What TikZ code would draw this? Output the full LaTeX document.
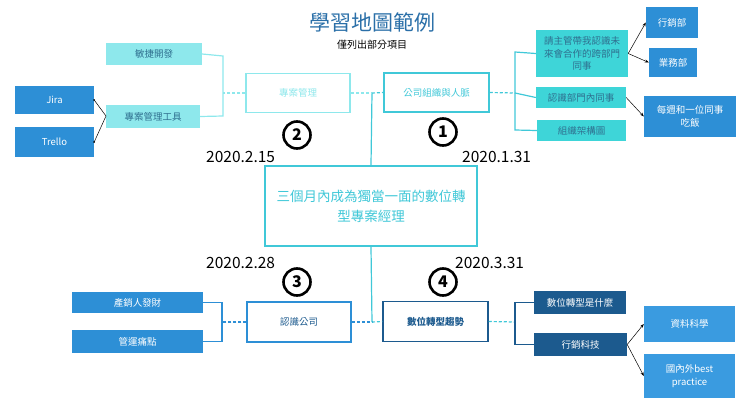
\documentclass[tikz,border=0pt]{standalone}
\usepackage{fontspec}
\setmainfont{Noto Sans CJK TC}
\usetikzlibrary{arrows.meta}
\definecolor{lc}{HTML}{8EE8EC}
\definecolor{tc}{HTML}{3ED5D8}
\definecolor{bc}{HTML}{40C8D8}
\definecolor{mb}{HTML}{2D8FD6}
\definecolor{nb}{HTML}{1C5A8E}
\definecolor{sb}{HTML}{3A9BE0}
\definecolor{tt}{HTML}{2A6FA8}
\definecolor{ltx}{HTML}{2F6F8F}
\begin{document}
\begin{tikzpicture}[x=1pt,y=-1pt,
 bx/.style={draw=none,inner sep=0pt,align=center,font=\fontsize{9.5}{12.5}\selectfont},
 ln/.style={line width=1.2pt},
 dl/.style={line width=1.2pt,dash pattern=on 3pt off 2pt},
 ar/.style={-{Stealth[length=4pt]},line width=0.5pt,black},
 num/.style={circle,draw=black,line width=2.6pt,minimum size=27pt,inner sep=0pt,font=\fontsize{16}{16}\selectfont\bfseries},
 dt/.style={font=\fontsize{15.5}{15.5}\selectfont,inner sep=0pt,anchor=base west}]
\useasboundingbox (0,0) rectangle (740,416);
\node[text=tt,font=\fontsize{21}{21}\selectfont] (title) at (372,22) {學習地圖範例};
\node[font=\fontsize{10}{10}\selectfont] (sub) at (372,45) {僅列出部分項目};
% left top
\node[bx,fill=lc,text=ltx,minimum width=96pt,minimum height=22pt] (agile) at (154,54) {敏捷開發};
\node[bx,fill=lc,text=ltx,minimum width=94pt,minimum height=23pt] (tool) at (153,116.5) {專案管理工具};
\node[bx,fill=mb,text=white,minimum width=79pt,minimum height=28pt] (jira) at (54.5,100) {Jira};
\node[bx,fill=mb,text=white,minimum width=79pt,minimum height=30pt] (trello) at (54.5,142) {Trello};
\node[bx,draw=lc,line width=1.5pt,fill=white,text=lc,minimum width=104pt,minimum height=39pt] (pm) at (298,93) {專案管理};
% right top
\node[bx,draw=bc,line width=1.5pt,fill=white,text=bc,minimum width=105pt,minimum height=39pt] (org) at (436.5,92.5) {公司組織與人脈};
\node[bx,fill=tc,text=ltx,minimum width=92pt,minimum height=47pt] (boss) at (582,53.5) {請主管帶我認識未\\來會合作的跨部門\\同事};
\node[bx,fill=tc,text=ltx,minimum width=90pt,minimum height=21pt] (dept) at (581,97.5) {認識部門內同事};
\node[bx,fill=tc,text=ltx,minimum width=89pt,minimum height=21pt] (chart) at (581.5,130.5) {組織架構圖};
\node[bx,fill=mb,text=white,minimum width=52pt,minimum height=31pt] (mkt) at (672,22.5) {行銷部};
\node[bx,fill=mb,text=white,minimum width=48pt,minimum height=29pt] (biz) at (673,62.5) {業務部};
\node[bx,fill=mb,text=white,minimum width=92pt,minimum height=41pt] (lunch) at (690,116.5) {每週和一位同事\\吃飯};
% center
\node[bx,draw=bc,line width=2pt,fill=white,text=bc,minimum width=212pt,minimum height=80pt,font=\fontsize{13.5}{20}\selectfont] (goal) at (371,206) {三個月內成為獨當一面的數位轉\\型專案經理};
% bottom left
\node[bx,draw=mb,line width=1.5pt,fill=white,text=nb,minimum width=104pt,minimum height=40pt] (co) at (299,322) {認識公司};
\node[bx,fill=mb,text=white,minimum width=131pt,minimum height=21pt] (prod) at (137.5,302.5) {產銷人發財};
\node[bx,fill=mb,text=white,minimum width=131pt,minimum height=23pt] (pain) at (137.5,341.5) {管運痛點};
% bottom right
\node[bx,draw=nb,line width=1.5pt,fill=white,text=nb,minimum width=105pt,minimum height=40pt,font=\fontsize{9.5}{12.5}\selectfont\bfseries] (dx) at (435.5,321.5) {數位轉型趨勢};
\node[bx,fill=nb,text=white,minimum width=92pt,minimum height=23pt] (what) at (580,302.5) {數位轉型是什麼};
\node[bx,fill=nb,text=white,minimum width=93pt,minimum height=23pt] (mt) at (580.5,344.5) {行銷科技};
\node[bx,fill=sb,text=white,minimum width=91pt,minimum height=36pt] (ds) at (689.5,324) {資料科學};
\node[bx,fill=sb,text=white,minimum width=91pt,minimum height=44pt] (bp) at (689.5,376) {國內外best\\practice};
% numbers and dates
\node[num] (n2) at (297,135) {2};
\node[num] (n1) at (443,132) {1};
\node[num] (n3) at (297,282) {3};
\node[num] (n4) at (443,282) {4};
\node[dt] (d2) at (206,162) {2020.2.15};
\node[dt] (d1) at (462,162) {2020.1.31};
\node[dt] (d3) at (206,268) {2020.2.28};
\node[dt] (d4) at (455,268) {2020.3.31};
% connectors top
\coordinate (tj) at (372,93);
\draw[ln,bc] (goal.north) -- (tj);
\draw[dl,lc] (pm.east) -- (tj);
\draw[dl,bc] (tj) -- (org.west);
\coordinate (lb) at (223,93);
\draw[dl,lc] (pm.west) -- (lb);
\draw[ln,lc] (agile.east) -- (223,56) -- (223,116) -- (tool.east);
\coordinate (rb) at (515,93);
\draw[dl,bc] (org.east) -- (rb);
\draw[ln,bc] (boss.west) -- (515,52) -- (515,130) -- (chart.west);
\draw[ln,bc] (rb) -- (dept.west);
% bottom
\coordinate (bj) at (372,322);
\draw[ln,bc] (goal.south) -- (bj);
\draw[dl,mb] (co.east) -- (bj);
\draw[dl,bc] (bj) -- (dx.west);
\coordinate (bl) at (222,322);
\draw[dl,mb] (co.west) -- (bl);
\draw[ln,mb] (prod.east) -- (222,302.5) -- (222,341.5) -- (pain.east);
\coordinate (br) at (515,322);
\draw[dl,bc] (dx.east) -- (br);
\draw[ln,nb] (what.west) -- (515,302.5) -- (515,344.5) -- (mt.west);
% arrows
\coordinate (tl) at (106,116);
\draw[line width=0.5pt] (jira.east) -- (tl) -- (trello.east);
\fill (jira.east) circle (1pt) (trello.east) circle (1pt);
\draw[ar] (boss.east) -- (mkt.west);
\draw[ar] (boss.east) -- (biz.west);
\draw[ar] (dept.east) -- (lunch.west);
\draw[ar] (mt.east) -- (ds.west);
\draw[ar] (mt.east) -- (bp.west);
\end{tikzpicture}
\end{document}
